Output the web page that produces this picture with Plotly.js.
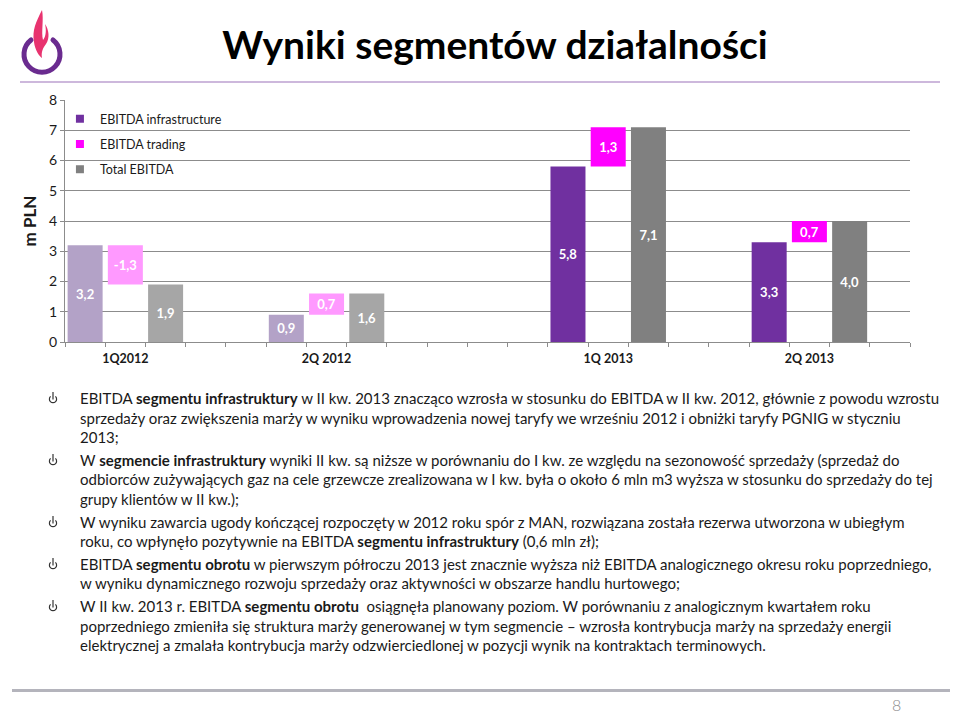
<!DOCTYPE html>
<html>
<head>
<meta charset="utf-8">
<script src="https://cdn.plot.ly/plotly-3.0.1.min.js"></script>
<style>
  body { margin:0; background:#fff; }
  #wrap { position:relative; width:960px; height:724px; overflow:hidden; font-family:Lato, "Open Sans", sans-serif; }
  #chart { position:absolute; left:0; top:0; width:960px; height:724px; }
  .ln { position:absolute; left:80px; white-space:nowrap; font-size:15px; color:#1a1a1a; line-height:18px; }
  .bul { position:absolute; left:48px; width:10px; height:13px; }
  .hr { position:absolute; }
</style>
</head>
<body>
<div id="wrap">
  <div id="chart"></div>
  <svg style="position:absolute;left:14px;top:6px" width="60" height="70" viewBox="0 0 60 70">
    <path d="M17,34 A18,18 0 1 0 39,34" fill="none" stroke="#6a2b8f" stroke-width="5" stroke-linecap="round"/>
    <path d="M28,4 C22,16 18,24 20,36 C21,44 25,50 28,52 C27,46 29,42 32,38 C36,32 35,24 31,18 C33,26 31,32 29,34 C27,26 30,14 28,4 Z" fill="#e8336f"/>
  </svg>
  <div class="hr" style="left:20px;top:81px;width:920px;height:2px;background:#cdb8dc"></div>
  <div class="hr" style="left:12px;top:689px;width:938px;height:3px;background:#b4b4bc"></div>
  <div style="position:absolute;left:892px;top:695px;font-size:16px;color:#8a8a8a;font-weight:300;">8</div>
  <div id="text"></div>
</div>
<script>
// ---- data ----
const categories = ['1Q2012', '2Q 2012', '1Q 2013', '2Q 2013'];
const infraValues = [3.2, 0.9, 5.8, 3.3];
const tradingValues = [-1.3, 0.7, 1.3, 0.7];
const totalValues = [1.9, 1.6, 7.1, 4.0];
const seriesNames = ['EBITDA infrastructure', 'EBITDA trading', 'Total EBITDA'];
const yTickVals = [0, 1, 2, 3, 4, 5, 6, 7, 8];

const paragraphs = [
  ['EBITDA <b>segmentu infrastruktury</b> w II kw. 2013 znacząco wzrosła w stosunku do EBITDA w II kw. 2012, głównie z powodu wzrostu',
   'sprzedaży oraz zwiększenia marży w wyniku wprowadzenia nowej taryfy we wrześniu 2012 i obniżki taryfy PGNIG w styczniu',
   '2013;'],
  ['W <b>segmencie infrastruktury</b> wyniki II kw. są niższe w porównaniu do I kw. ze względu na sezonowość sprzedaży (sprzedaż do',
   'odbiorców zużywających gaz na cele grzewcze zrealizowana w I kw. była o około 6 mln m3 wyższa w stosunku do sprzedaży do tej',
   'grupy klientów w II kw.);'],
  ['W wyniku zawarcia ugody kończącej rozpoczęty w 2012 roku spór z MAN, rozwiązana została rezerwa utworzona w ubiegłym',
   'roku, co wpłynęło pozytywnie na EBITDA <b>segmentu infrastruktury</b> (0,6 mln zł);'],
  ['EBITDA <b>segmentu obrotu</b> w pierwszym półroczu 2013 jest znacznie wyższa niż EBITDA analogicznego okresu roku poprzedniego,',
   'w wyniku dynamicznego rozwoju sprzedaży oraz aktywności w obszarze handlu hurtowego;'],
  ['W II kw. 2013 r. EBITDA <b>segmentu obrotu</b>&nbsp; osiągnęła planowany poziom. W porównaniu z analogicznym kwartałem roku',
   'poprzedniego zmieniła się struktura marży generowanej w tym segmencie – wzrosła kontrybucja marży na sprzedaży energii',
   'elektrycznej a zmalała kontrybucja marży odzwierciedlonej w pozycji wynik na kontraktach terminowych.']
];

// ---- styles / layout ----
const fullColors = ['#7030a0', '#ff00ff', '#808080'];
const pastColors = ['#b3a2c7', '#ff99ff', '#a6a6a6'];
const groupStart = [0, 5, 12, 17];   // slot of first bar in each group
const barWidth = 0.87;

const fmt = v => v.toFixed(1).replace('.', ',');
const colorFor = (s) => categories.map(c => c.indexOf('2012') >= 0 ? pastColors[s] : fullColors[s]);

const textFont = {family: 'Lato', size: 13, color: '#ffffff', weight: 'bold'};
function barTrace(s, xs, ys, base) {
  const t = {
    type: 'bar', x: xs, y: ys, width: barWidth,
    marker: {color: colorFor(s), line: {width: 0}},
    text: ys.map(fmt), textposition: 'inside', insidetextanchor: 'middle',
    textangle: 0, constraintext: 'none', insidetextfont: textFont,
    showlegend: false, hoverinfo: 'skip', legendgroup: 'g' + s
  };
  if (base) t.base = base;
  return t;
}
const traces = [
  barTrace(0, groupStart.map(g => g), infraValues),
  barTrace(1, groupStart.map(g => g + 1), tradingValues, infraValues),
  barTrace(2, groupStart.map(g => g + 2), totalValues)
];
seriesNames.forEach((n, s) => traces.push({
  type: 'scatter', mode: 'markers', x: [null], y: [null], name: n,
  marker: {symbol: 'square', size: 8, color: fullColors[s]},
  legendgroup: 'g' + s, hoverinfo: 'skip'
}));

const minorTicks = [];
for (let b = -0.5; b <= 20.5; b += 1) minorTicks.push(b);

const axisColor = '#8c8c8c';
const layout = {
  width: 960, height: 724,
  margin: {l: 65, r: 50, t: 100, b: 382, pad: 0},
  paper_bgcolor: 'rgba(0,0,0,0)', plot_bgcolor: 'rgba(0,0,0,0)',
  font: {family: 'Lato', color: '#1a1a1a'},
  title: {text: 'Wyniki segmentów działalności', font: {family: 'Lato', size: 39, weight: 'bold', color: '#000'},
          x: 495 / 960, xref: 'container', xanchor: 'center', y: 1 - 45 / 724, yref: 'container', yanchor: 'middle'},
  barmode: 'overlay',
  showlegend: true,
  legend: {x: -0.006, y: 0.983, xanchor: 'left', yanchor: 'top', bgcolor: 'rgba(0,0,0,0)',
           font: {family: 'Lato', size: 12.5, color: '#1a1a1a'}, traceorder: 'grouped', tracegroupgap: 6},
  xaxis: {range: [-0.5, 20.5], tickmode: 'array', tickvals: groupStart.map(g => g + 1), ticktext: categories,
          ticks: '', showline: true, linecolor: axisColor, linewidth: 1, showgrid: false, zeroline: false,
          ticklabelstandoff: 5, automargin: false,
          tickfont: {family: 'Lato', size: 12.5, color: '#1a1a1a', weight: 'bold'},
          minor: {tickmode: 'array', tickvals: minorTicks, ticks: 'outside', ticklen: 4, tickcolor: axisColor, showgrid: false}},
  yaxis: {range: [0, 8], tickmode: 'array', tickvals: yTickVals, ticks: 'outside', ticklen: 4, tickcolor: axisColor,
          showgrid: true, gridcolor: axisColor, gridwidth: 1, showline: true, linecolor: axisColor, zeroline: false,
          automargin: false, tickfont: {family: 'Lato', size: 14, color: '#1a1a1a'},
          title: {text: 'm PLN', font: {family: 'Lato', size: 17, weight: 'bold', color: '#1a1a1a'}, standoff: 8}}
};
Plotly.newPlot('chart', traces, layout, {displayModeBar: false, staticPlot: true});

// ---- bullet text ----
const bulletSvg = '<svg class="bul" viewBox="0 0 10 13"><path d="M2.6,5.4 A3.6,3.6 0 1 0 7.4,5.4" fill="none" stroke="#333" stroke-width="1.2"/><line x1="5" y1="1" x2="5" y2="8.5" stroke="#333" stroke-width="1.2"/></svg>';
const textBox = document.getElementById('text');
let y = 398;
const lineStep = 19.6, paraGap = 3;
paragraphs.forEach(p => {
  const b = document.createElement('div');
  b.innerHTML = bulletSvg;
  b.firstChild.style.top = (y - 7) + 'px';
  textBox.appendChild(b.firstChild);
  p.forEach(l => {
    const d = document.createElement('div');
    d.className = 'ln';
    d.style.top = (y - 9) + 'px';
    d.innerHTML = l;
    textBox.appendChild(d);
    y += lineStep;
  });
  y += paraGap;
});
</script>
</body>
</html>
